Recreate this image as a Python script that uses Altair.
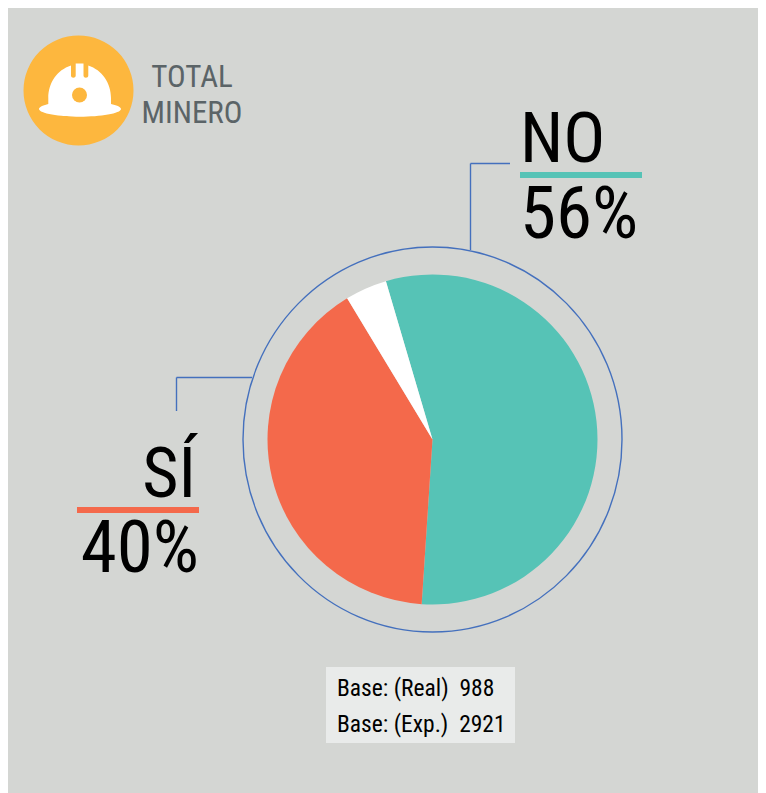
import math
import altair as alt
import pandas as pd

# ---- data ----
slice_labels = ["NO", "SÍ", "Otros"]
slice_values = [55.6, 40.3, 4.1]
slice_colors = ["#56c3b6", "#f4694b", "#ffffff"]
big_labels = ["NO", "56%", "SÍ", "40%"]
icon_labels = ["TOTAL", "MINERO"]
base_labels = ["Base: (Real)\u00a0\u00a0988", "Base: (Exp.)\u00a0\u00a02921"]

BG = "#d4d6d3"
LINE = "#4470bd"
FONT = "Roboto Condensed, Roboto"
W, H = 750, 785


def X(px):
    return alt.value(px - 8)


def Y(py):
    return alt.value(py - 8)


def rect(x0, x1, y0, y1, color):
    return alt.Chart(pd.DataFrame({"a": [0]})).mark_rect(color=color).encode(
        x=X(x0), x2=X(x1), y=Y(y0), y2=Y(y1))


def rule(x0, y0, x1, y1):
    return alt.Chart(pd.DataFrame({"a": [0]})).mark_rule(color=LINE, strokeWidth=1.4).encode(
        x=X(x0), x2=X(x1), y=Y(y0), y2=Y(y1))


def label(txt, x, y, size, color="#000000", align="left"):
    return alt.Chart(pd.DataFrame({"t": [txt]})).mark_text(
        font=FONT, fontSize=size, color=color, align=align, baseline="alphabetic"
    ).encode(text="t:N", x=X(x), y=Y(y))


def glyph(shape, x, y, diameter, **kw):
    return alt.Chart(pd.DataFrame({"a": [0]})).mark_point(
        shape=shape, size=diameter ** 2, **kw
    ).encode(x=X(x), y=Y(y))


# pie
pie_cx, pie_cy = 432.5, 439.5
start = math.radians(-16.4)
pie_df = pd.DataFrame({"label": slice_labels, "value": slice_values, "idx": [0, 1, 2]})
pie = alt.Chart(pie_df).mark_arc(outerRadius=165).encode(
    theta=alt.Theta("value:Q", stack=True,
                    scale=alt.Scale(domain=[0, 100], range=[start, start + 2 * math.pi])),
    order=alt.Order("idx:Q"),
    color=alt.Color("label:N", legend=None,
                    scale=alt.Scale(domain=slice_labels, range=slice_colors)),
    x=X(pie_cx), y=Y(pie_cy),
)

# ring: slightly tall ellipse, as in the reference
ring_rx = 379.0 / 385.0
ring_shape = f"M {-ring_rx} 0 A {ring_rx} 1 0 1 1 {ring_rx} 0 A {ring_rx} 1 0 1 1 {-ring_rx} 0 Z"
ring = glyph(ring_shape, 432.5, 439.5, 385, filled=False, stroke=LINE, strokeWidth=1.4, opacity=1)

# helmet icon
hx, hy, hs = 80.0, 90.0, 41.0


def n(x, y):
    return f"{(x - hx) / hs:.4f} {(y - hy) / hs:.4f}"


helmet_shape = (
    f"M {n(48.3, 104)} L {n(48.3, 98)} C {n(48.3, 83)} {n(57, 70)} {n(71, 65.5)} "
    f"L {n(71, 75.5)} C {n(71, 78.5)} {n(75.7, 78.5)} {n(75.7, 75.5)} "
    f"L {n(75.7, 63.5)} L {n(83.5, 63.5)} L {n(83.5, 75.5)} "
    f"C {n(83.5, 78.5)} {n(88.3, 78.5)} {n(88.3, 75.5)} L {n(88.3, 65.5)} "
    f"C {n(102, 70)} {n(111, 83)} {n(111, 98)} L {n(111, 104)} "
    f"C {n(116, 105)} {n(121, 107)} {n(121, 109)} "
    f"C {n(121, 113.5)} {n(100, 116.7)} {n(80, 116.7)} "
    f"C {n(60, 116.7)} {n(39, 113.5)} {n(39, 109)} "
    f"C {n(39, 107)} {n(44, 105)} {n(48.3, 104)} Z"
)

layers = [
    glyph("circle", 78.5, 90.5, 110, filled=True, fill="#fdb73e", stroke=None, opacity=1),
    glyph(helmet_shape, hx, hy, 2 * hs, filled=True, fill="#ffffff", stroke=None, opacity=1),
    glyph("circle", 79.5, 95, 15, filled=True, fill="#fdb73e", stroke=None, opacity=1),
    label(icon_labels[0], 192, 86.7, 31, "#5b6467", "center"),
    label(icon_labels[1], 192, 122.7, 31, "#5b6467", "center"),
    rule(470.5, 163.5, 510, 163.5),
    rule(470.5, 163.5, 470.5, 250),
    rule(176.5, 377.5, 252, 377.5),
    rule(176.5, 377.5, 176.5, 411),
    ring,
    pie,
    label(big_labels[0], 520, 162, 70),
    rect(520, 642, 172, 178, slice_colors[0]),
    label(big_labels[1], 520, 237.5, 73),
    label(big_labels[2], 196, 497, 70, align="right"),
    rect(77, 199, 507, 513, slice_colors[1]),
    label(big_labels[3], 199, 572, 73, align="right"),
    rect(326, 515, 667, 743, "#e9ebea"),
    label(base_labels[0], 337, 696, 23.5),
    label(base_labels[1], 337, 731.7, 23.5),
]

chart = alt.layer(*layers).properties(
    width=W, height=H, background=BG, padding=0,
    autosize=alt.AutoSizeParams(type="none"),
).configure_view(stroke=None)

chart.save("out.html", embed_options={"renderer": "svg", "actions": False})
